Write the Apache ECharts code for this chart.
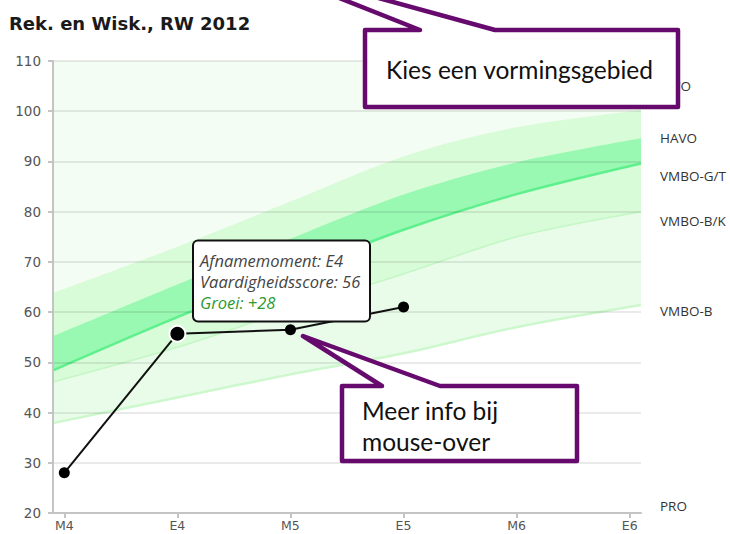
<!DOCTYPE html>
<html>
<head>
<meta charset="utf-8">
<script src="https://cdn.jsdelivr.net/npm/echarts@6/dist/echarts.min.js"></script>
<style>
  html, body { margin: 0; padding: 0; background: #fff; }
  #chart { width: 730px; height: 534px; }
</style>
</head>
<body>
<div id="chart"></div>
<script>
// afnamemomenten (x-as)
const moments = ['M4', 'E4', 'M5', 'E5', 'M6', 'E6'];

// niveau-banden: x-posities (rand links, E4..M6, rand rechts) en grenswaarden
const bandX = [-0.1, 1, 2, 3, 4, 5.1];
const curve1 = [37.9, 43.0, 47.6, 51.8, 57.0, 61.4];
const curve2 = [46.1, 53.0, 60.5, 67.6, 75.0, 80.0];
const curve3 = [48.4, 59.0, 67.8, 76.4, 83.5, 89.6];
const curve4 = [55.2, 65.5, 74.6, 83.4, 89.8, 94.6];
const curve5 = [63.8, 73.0, 82.0, 91.0, 96.8, 100.2];

// leerling
const studentScores = [28, 55.7, 56.5, 61];

// niveaulabels rechts
const levelNames = ['VWO', 'HAVO', 'VMBO-G/T', 'VMBO-B/K', 'VMBO-B', 'PRO'];
const levelValues = [105, 94.6, 87.1, 78.2, 60.2, 21.3];

const purple = '#670a6e';
const hovered = 1;

function band(vals, fill, lineColor, lineWidth) {
  return {
    type: 'line',
    data: bandX.map((x, i) => [x, vals[i]]),
    smooth: 0.3,
    symbol: 'none',
    silent: true,
    z: 2,
    lineStyle: { color: lineColor, width: lineWidth },
    areaStyle: { color: fill, opacity: 1, origin: 'start' }
  };
}

const tipText = {
  fontFamily: 'Open Sans', fontStyle: 'italic', fontSize: 16.5, fill: '#444', textVerticalAlign: 'middle'
};
const calloutText = {
  fontFamily: 'Lato', fontSize: 24.5, fill: '#111', textVerticalAlign: 'middle'
};

const chart = echarts.init(document.getElementById('chart'), null, { renderer: 'svg' });

const option = {
  animation: false,
  title: {
    text: 'Rek. en Wisk., RW 2012',
    left: 9,
    top: 14,
    padding: 0,
    textStyle: { fontFamily: 'DejaVu Sans', fontWeight: 'bold', fontSize: 18, color: '#1a1a1a' }
  },
  grid: {
    left: 53, right: 89, top: 61, bottom: 21,
    show: true, backgroundColor: '#f3fdf3', borderWidth: 0,
    outerBoundsMode: 'none'
  },
  xAxis: {
    type: 'value',
    min: -0.1,
    max: 5.1,
    z: 3,
    axisLine: { show: true, onZero: false, lineStyle: { color: '#c4c4c4', width: 2 } },
    axisTick: { show: true, length: 5, customValues: [0, 1, 2, 3, 4, 5], lineStyle: { color: '#c4c4c4', width: 2 } },
    axisLabel: {
      customValues: [0, 1, 2, 3, 4, 5],
      margin: 6,
      color: '#555',
      fontFamily: 'DejaVu Sans',
      fontSize: 12.5,
      formatter: v => moments[Math.round(v)]
    },
    splitLine: { show: false }
  },
  yAxis: [{
    type: 'value',
    min: 20,
    max: 110,
    interval: 10,
    z: 3,
    axisLine: { show: true, onZero: false, lineStyle: { color: '#c4c4c4', width: 2 } },
    axisTick: { show: true, length: 5, lineStyle: { color: '#c4c4c4', width: 2 } },
    axisLabel: { margin: 12, color: '#555', fontFamily: 'DejaVu Sans', fontSize: 13.5 },
    splitLine: { show: true, lineStyle: { color: 'rgba(0,0,0,0.11)', width: 1.5 } }
  }, {
    type: 'value',
    position: 'right',
    min: 20,
    max: 110,
    axisLine: { show: false },
    axisTick: { show: false },
    splitLine: { show: false },
    axisLabel: {
      customValues: levelValues,
      margin: 19,
      color: '#333',
      fontFamily: 'Open Sans',
      fontSize: 13.5,
      formatter: v => {
        let best = 0;
        levelValues.forEach((lv, i) => { if (Math.abs(lv - v) < Math.abs(levelValues[best] - v)) best = i; });
        return levelNames[best];
      }
    }
  }],
  series: [
    band(curve5, '#d8fbd8', '#d8fbd8', 0),
    band(curve4, '#99f8b2', '#99f8b2', 0),
    band(curve3, '#d8fbd8', '#5ff08e', 2.5),
    band(curve2, '#e9fce9', '#c4f7c4', 1.5),
    band(curve1, '#ffffff', '#cdf8cd', 2.5),
    {
      type: 'line',
      z: 5,
      data: studentScores.map((v, i) => i === hovered
        ? { value: [i, v], symbolSize: 16, itemStyle: { borderColor: '#fff', borderWidth: 2 } }
        : { value: [i, v] }),
      symbol: 'circle',
      symbolSize: 11,
      itemStyle: { color: '#000' },
      lineStyle: { color: '#111', width: 2 }
    }
  ],
  graphic: [
    // tooltip bij E4
    {
      type: 'rect', z: 50,
      shape: { x: 193, y: 240.5, width: 177, height: 81, r: 5 },
      style: { fill: '#fff', stroke: '#111', lineWidth: 2 }
    },
    {
      type: 'text', z: 51, x: 200, y: 260,
      style: Object.assign({ text: 'Afnamemoment: ' + moments[hovered] }, tipText)
    },
    {
      type: 'text', z: 51, x: 200, y: 281.5,
      style: Object.assign({ text: 'Vaardigheidsscore: ' + Math.round(studentScores[hovered]) }, tipText)
    },
    {
      type: 'text', z: 51, x: 200, y: 302.5,
      style: Object.assign({}, tipText, {
        text: 'Groei: +' + Math.round(studentScores[hovered] - studentScores[hovered - 1]),
        fill: '#2e9a2e'
      })
    },
    // callout boven
    {
      type: 'polygon', z: 60,
      shape: { points: [[365, 30], [420, 30], [251, -37], [495, 30], [678, 30], [678, 107], [365, 107]] },
      style: { fill: '#fff', stroke: purple, lineWidth: 4.5, lineJoin: 'round' }
    },
    {
      type: 'text', z: 61, x: 386, y: 69,
      style: Object.assign({ text: 'Kies een vormingsgebied' }, calloutText)
    },
    // callout onder
    {
      type: 'polygon', z: 60,
      shape: { points: [[342, 386], [382, 386], [303, 336], [440, 386], [577, 386], [577, 461], [342, 461]] },
      style: { fill: '#fff', stroke: purple, lineWidth: 4.5, lineJoin: 'round' }
    },
    {
      type: 'text', z: 61, x: 362, y: 410,
      style: Object.assign({ text: 'Meer info bij' }, calloutText)
    },
    {
      type: 'text', z: 61, x: 362, y: 441,
      style: Object.assign({ text: 'mouse-over' }, calloutText)
    }
  ]
};

chart.setOption(option);
</script>
</body>
</html>
